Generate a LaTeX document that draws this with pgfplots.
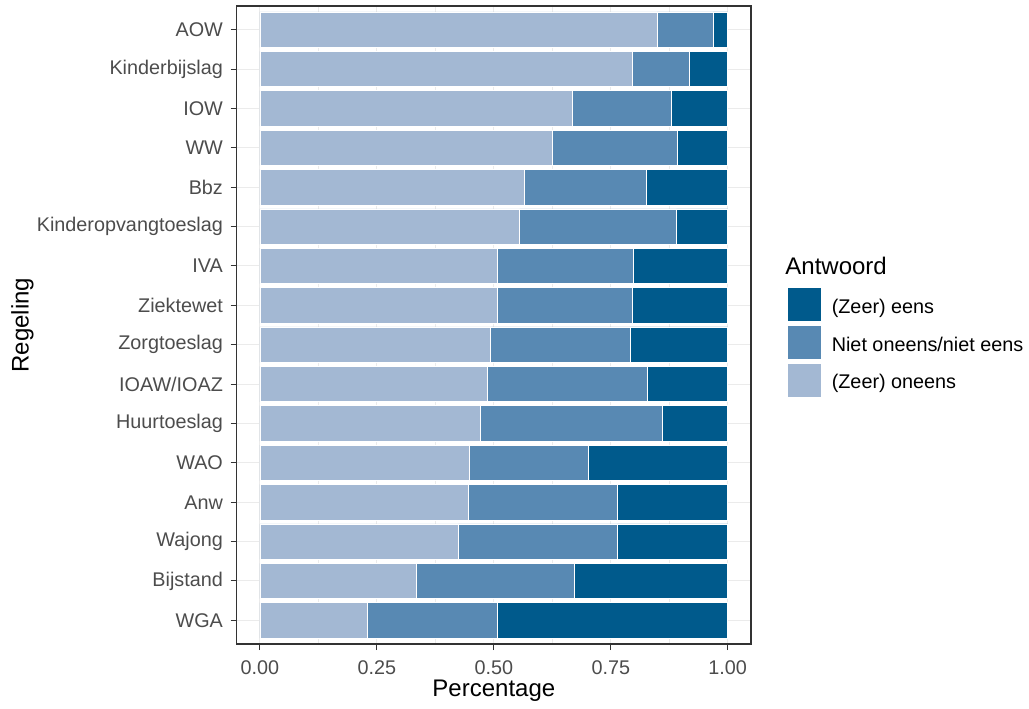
\documentclass[border=0pt]{standalone}
\usepackage{fontspec}
\setmainfont{Liberation Sans}
\usepackage{pgfplots}
\usepackage{pgfplotstable}
\pgfplotsset{compat=1.18}
\definecolor{cDark}{HTML}{005A8C}
\definecolor{cMid}{HTML}{5889B3}
\definecolor{cLight}{HTML}{A3B8D3}
\definecolor{grid92}{gray}{0.92}
\definecolor{g30}{gray}{0.30}
\definecolor{g20}{gray}{0.20}

% y: 16 = top (AOW), 1 = bottom (WGA)
\pgfplotstableread{
y  light  mid    dark
16 0.849  0.120  0.031
15 0.795  0.123  0.082
14 0.668  0.212  0.120
13 0.626  0.267  0.107
12 0.565  0.260  0.175
11 0.555  0.335  0.110
10 0.507  0.291  0.202
9  0.507  0.288  0.205
8  0.493  0.298  0.209
7  0.486  0.343  0.171
6  0.472  0.388  0.140
5  0.448  0.254  0.298
4  0.445  0.319  0.236
3  0.424  0.340  0.236
2  0.335  0.336  0.329
1  0.229  0.278  0.493
}\data

\pgfplotsset{
  keybox/.style={legend image code/.code={%
    \draw[##1, draw=white, line width=0.4pt] (0pt,-6.95pt) rectangle (17pt,10.05pt);}},
}

\begin{document}
\begin{tikzpicture}
\begin{axis}[
  name=ax,
  scale only axis, width=257.25pt, height=319pt,
  xbar stacked, bar width=0.9,
  xmin=-0.05, xmax=1.05, ymin=0.4, ymax=16.6,
  xtick={0,0.25,0.5,0.75,1},
  xticklabels={0.00,0.25,0.50,0.75,1.00},
  minor xtick={0.125,0.375,0.625,0.875},
  ytick={1,...,16},
  yticklabels={WGA,Bijstand,Wajong,Anw,WAO,Huurtoeslag,IOAW/IOAZ,Zorgtoeslag,Ziektewet,IVA,Kinderopvangtoeslag,Bbz,WW,IOW,Kinderbijslag,AOW},
  tick pos=left,
  grid=both,
  major grid style={grid92, line width=0.5pt},
  minor grid style={grid92, line width=0.3pt},
  axis line style={g20, line width=0.7pt},
  tick align=outside,
  major tick style={g20, line width=0.5pt},
  major tick length=3pt, minor tick length=0pt,
  ticklabel style={font=\fontsize{9.9}{11}\selectfont, text=g30},
  yticklabel style={anchor=east, inner sep=0pt, xshift=-3.65pt},
  xticklabel style={anchor=north, inner sep=0pt, yshift=-5pt},
  xlabel={Percentage}, ylabel={Regeling},
  label style={font=\fontsize{12}{14}\selectfont, text=black},
  xlabel style={at={(axis description cs:0.5,0)}, anchor=base, yshift=-26.5pt},
  ylabel style={at={(axis description cs:0,0.5)}, anchor=base, yshift=104pt},
  reverse legend,
  legend cell align=left,
  legend style={draw=none, fill=none, at={(1.0698,0.5595)}, anchor=north west,
    inner sep=0pt, outer sep=0pt, row sep=1.5pt,
    font=\fontsize{9.9}{11}\selectfont, text=black,
    nodes={inner sep=0pt},
    /tikz/every odd column/.append style={column sep=5pt}},
  clip=false,
]
\addplot[fill=cLight, draw=white, line width=0.3pt, keybox] table[x=light, y=y]{\data};
\addlegendentry{(Zeer) oneens}
\addplot[fill=cMid, draw=white, line width=0.3pt, keybox] table[x=mid, y=y]{\data};
\addlegendentry{Niet oneens/niet eens}
\addplot[fill=cDark, draw=white, line width=0.3pt, keybox] table[x=dark, y=y]{\data};
\addlegendentry{(Zeer) eens}
\node[anchor=base west, font=\fontsize{12}{14}\selectfont, inner sep=0pt] at (rel axis cs:1.0659,0.5784) {Antwoord};
\coordinate (SW) at (rel axis cs:0,0);
\coordinate (NE) at (rel axis cs:1,1);
\end{axis}
\draw[g20, line width=0.7pt] (SW) rectangle (NE);
\path ([xshift=-118.3pt,yshift=-31pt]SW) rectangle ([xshift=138.95pt,yshift=3pt]NE);
\end{tikzpicture}
\end{document}
